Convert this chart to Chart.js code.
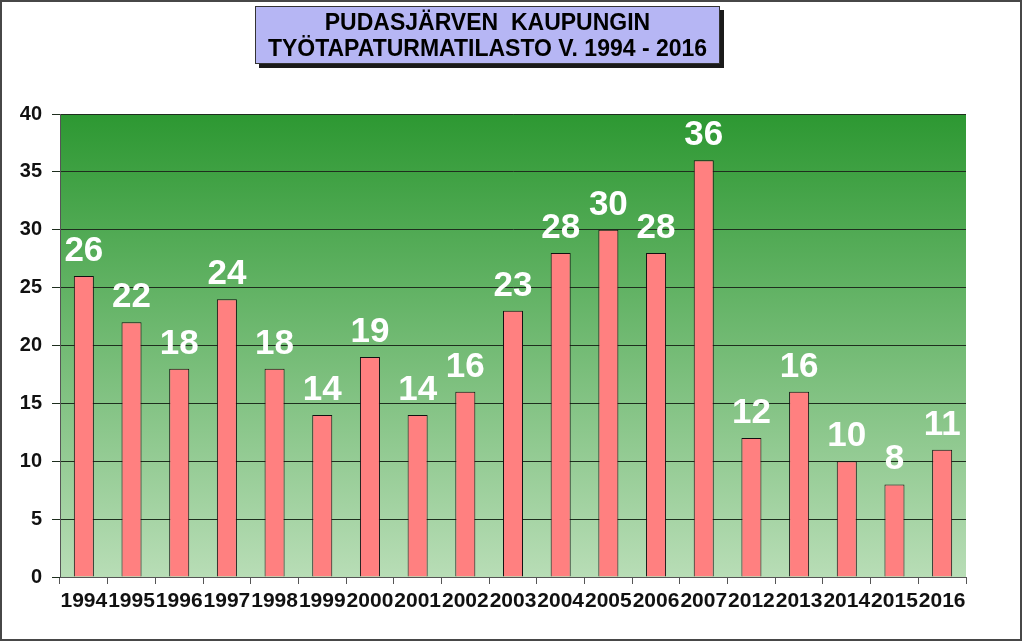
<!DOCTYPE html>
<html lang="fi">
<head>
    <meta charset="UTF-8">
    <title>Pudasjärven kaupungin työtapaturmatilasto</title>
    <style>
        body {
            margin: 0;
            background-color: #fff;
            font-family: 'Liberation Sans', Arial, sans-serif;
        }
        .wrap {
            position: relative;
            width: 1023px;
            height: 642px;
            overflow: hidden;
        }
        .wrap canvas {
            position: absolute;
            left: 0;
            top: 0;
        }
        .frame {
            position: absolute;
            left: 0;
            top: 0;
            width: 1022px;
            height: 641px;
            box-sizing: border-box;
            border: 2px solid #474747;
            pointer-events: none;
        }
        .title-box {
            position: absolute;
            left: 255px;
            top: 6px;
            width: 465px;
            height: 58px;
            box-sizing: border-box;
            background-color: #b6b6f4;
            border: 1px solid #333;
            box-shadow: 4px 4px 0 #1a1a1a;
            text-align: center;
            font-weight: bold;
            font-size: 23px;
            line-height: 26px;
            padding-top: 2px;
            color: #000;
            white-space: pre;
        }
    </style>
    <script src="https://cdn.jsdelivr.net/npm/chart.js"></script>
</head>
<body>
    <div class="wrap">
        <canvas id="accidentChart" width="1023" height="642"></canvas>
        <div class="title-box">PUDASJÄRVEN  KAUPUNGIN
TYÖTAPATURMATILASTO V. 1994 - 2016</div>
        <div class="frame"></div>
    </div>

    <script>
        const years = ['1994', '1995', '1996', '1997', '1998', '1999', '2000', '2001', '2002', '2003',
            '2004', '2005', '2006', '2007', '2012', '2013', '2014', '2015', '2016'];
        const accidents = [26, 22, 18, 24, 18, 14, 19, 14, 16, 23, 28, 30, 28, 36, 12, 16, 10, 8, 11];
        const yTicks = [0, 5, 10, 15, 20, 25, 30, 35, 40];

        const fontFamily = "'Liberation Sans', Arial, sans-serif";

        // green gradient behind the bars
        const plotBackground = {
            id: 'plotBackground',
            beforeDraw(chart) {
                const { ctx, chartArea: a } = chart;
                const g = ctx.createLinearGradient(0, a.top, 0, a.bottom);
                g.addColorStop(0, '#2d9832');
                g.addColorStop(1, '#b8ddb6');
                ctx.save();
                ctx.fillStyle = g;
                ctx.fillRect(a.left, a.top, a.right - a.left, a.bottom - a.top);
                ctx.restore();
            }
        };

        // white value labels above the bars
        const valueLabels = {
            id: 'valueLabels',
            afterDatasetsDraw(chart) {
                const { ctx } = chart;
                const meta = chart.getDatasetMeta(0);
                ctx.save();
                ctx.fillStyle = '#fff';
                ctx.font = 'bold 35px ' + fontFamily;
                ctx.textAlign = 'center';
                ctx.textBaseline = 'alphabetic';
                meta.data.forEach((bar, i) => {
                    ctx.fillText(String(accidents[i]), bar.x, bar.y - 15);
                });
                ctx.restore();
            }
        };

        new Chart(document.getElementById('accidentChart'), {
            type: 'bar',
            data: {
                labels: years,
                datasets: [{
                    data: accidents,
                    backgroundColor: '#ff8080',
                    borderColor: '#111',
                    borderWidth: 1,
                    barPercentage: 0.42,
                    categoryPercentage: 1
                }]
            },
            options: {
                responsive: false,
                animation: false,
                layout: {
                    padding: { left: 0, top: 114, right: 57, bottom: 0 }
                },
                plugins: {
                    legend: { display: false },
                    tooltip: { enabled: false }
                },
                scales: {
                    x: {
                        afterFit(scale) { scale.height = 65; },
                        grid: {
                            offset: true,
                            drawOnChartArea: false,
                            color: '#555',
                            tickLength: 7
                        },
                        border: { color: '#555', width: 1 },
                        ticks: {
                            color: '#111',
                            font: { family: fontFamily, size: 21, weight: 'bold' },
                            maxRotation: 0,
                            autoSkip: false,
                            padding: 5
                        }
                    },
                    y: {
                        min: 0,
                        max: 40,
                        afterFit(scale) { scale.width = 60; },
                        afterBuildTicks(scale) {
                            scale.ticks = yTicks.map(v => ({ value: v }));
                        },
                        grid: {
                            color: '#1e2e1e',
                            lineWidth: 1,
                            tickLength: 8
                        },
                        border: { color: '#555', width: 1 },
                        ticks: {
                            color: '#111',
                            font: { family: fontFamily, size: 20, weight: 'bold' },
                            padding: 10
                        }
                    }
                }
            },
            plugins: [plotBackground, valueLabels]
        });
    </script>
</body>
</html>
